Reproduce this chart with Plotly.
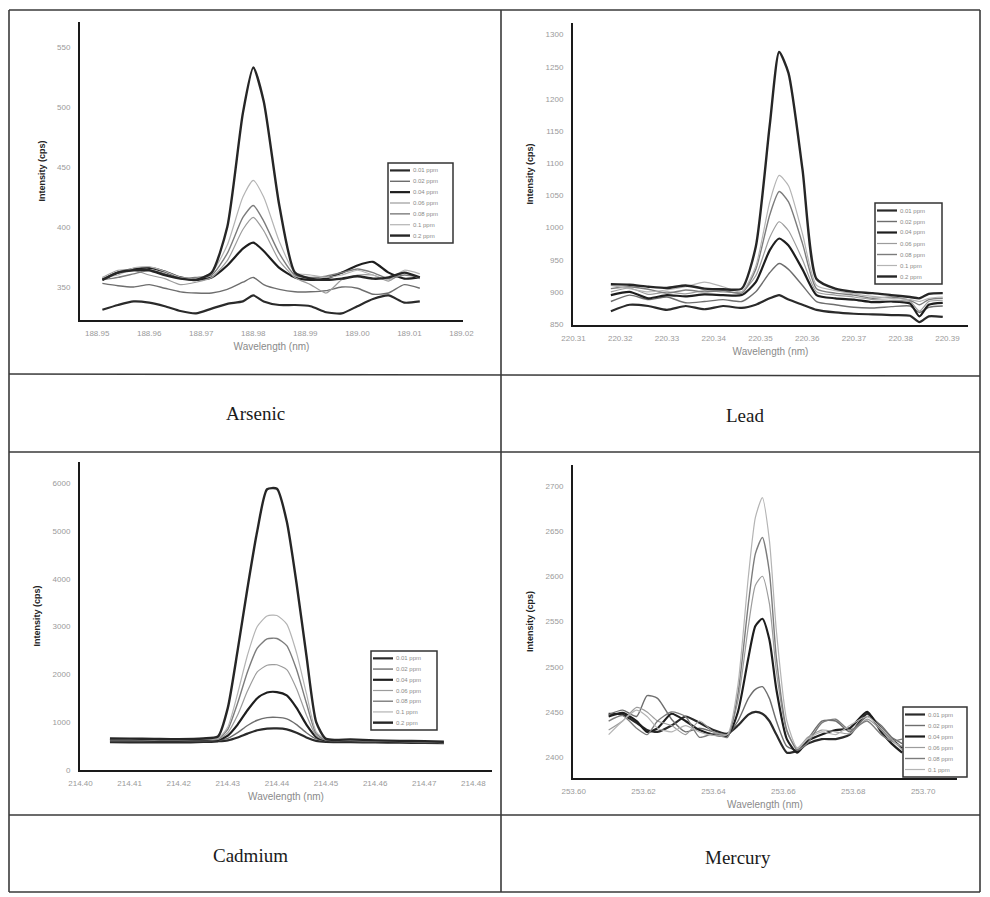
import plotly.graph_objects as go

# ---------------- DATA ----------------
PPM_LABELS_7 = ["0.01 ppm", "0.02 ppm", "0.04 ppm", "0.06 ppm", "0.08 ppm", "0.1 ppm", "0.2 ppm"]
PPM_LABELS_6 = ["0.01 ppm", "0.02 ppm", "0.04 ppm", "0.06 ppm", "0.08 ppm", "0.1 ppm"]
ELEMENTS = ["Arsenic", "Lead", "Cadmium", "Mercury"]

# Arsenic
AS_WL = [188.951, 188.954, 188.957, 188.960, 188.963, 188.966, 188.969, 188.972, 188.975, 188.978, 188.980,
         188.982, 188.985, 188.988, 188.991, 188.994, 188.997, 189.000, 189.003, 189.006, 189.009, 189.012]
AS_001 = [331, 335, 338, 337, 334, 330, 328, 332, 336, 338, 343, 338, 335, 335, 334, 329, 328, 334, 340, 343, 337, 338]
AS_002 = [353, 351, 350, 352, 349, 346, 345, 345, 348, 354, 358, 352, 348, 346, 346, 347, 350, 349, 344, 345, 352, 349]
AS_004 = [356, 362, 365, 366, 363, 358, 356, 358, 368, 382, 387, 380, 366, 358, 356, 357, 362, 368, 371, 362, 357, 358]
AS_006 = [358, 364, 364, 360, 357, 352, 354, 358, 372, 398, 408, 397, 372, 358, 352, 345, 356, 360, 360, 355, 362, 357]
AS_008 = [356, 358, 361, 364, 361, 357, 358, 360, 378, 408, 418, 405, 378, 360, 358, 359, 362, 365, 362, 357, 360, 358]
AS_010 = [358, 360, 366, 367, 363, 358, 357, 362, 385, 425, 439, 425, 388, 362, 360, 358, 360, 364, 360, 356, 364, 361]
AS_020 = [356, 362, 364, 364, 360, 357, 356, 362, 400, 495, 533, 505, 418, 362, 357, 356, 357, 359, 357, 358, 362, 358]

# Lead
PB_WL = [220.318, 220.322, 220.326, 220.330, 220.334, 220.338, 220.342, 220.346, 220.349, 220.352, 220.354,
         220.356, 220.359, 220.362, 220.366, 220.370, 220.374, 220.378, 220.382, 220.384, 220.386, 220.389]
PB_001 = [870, 880, 878, 872, 878, 873, 878, 875, 880, 890, 895, 888, 880, 872, 868, 866, 865, 864, 863, 853, 862, 861]
PB_002 = [885, 895, 888, 892, 883, 885, 888, 885, 900, 930, 944, 935, 910, 885, 880, 876, 875, 877, 878, 868, 876, 878]
PB_004 = [895, 900, 890, 895, 893, 896, 895, 895, 915, 965, 983, 972, 935, 895, 890, 888, 884, 885, 882, 862, 880, 883]
PB_006 = [900, 906, 896, 900, 897, 902, 900, 900, 925, 985, 1009, 995, 950, 900, 895, 892, 888, 887, 885, 870, 885, 887]
PB_008 = [905, 908, 904, 898, 903, 900, 902, 898, 935, 1020, 1056, 1040, 975, 905, 898, 895, 890, 892, 887, 880, 888, 890]
PB_010 = [910, 905, 900, 903, 908, 915, 908, 900, 940, 1040, 1081, 1065, 990, 910, 902, 897, 893, 890, 888, 885, 890, 892]
PB_020 = [912, 911, 908, 906, 910, 905, 904, 905, 970, 1160, 1273, 1240, 1090, 920, 905, 900, 898, 895, 892, 890, 897, 898]

# Cadmium
CD_WL = [214.406, 214.410, 214.415, 214.420, 214.425, 214.428, 214.430, 214.432, 214.434, 214.436, 214.438,
         214.440, 214.442, 214.444, 214.446, 214.448, 214.450, 214.455, 214.460, 214.465, 214.470, 214.474]
CD_001 = [580, 575, 575, 575, 585, 600, 620, 680, 760, 830, 865, 870, 850, 780, 680, 610, 590, 580, 575, 570, 565, 560]
CD_002 = [600, 600, 600, 600, 610, 620, 660, 780, 930, 1040, 1095, 1100, 1070, 950, 780, 650, 610, 600, 590, 585, 575, 565]
CD_004 = [620, 620, 615, 615, 625, 630, 720, 950, 1250, 1500, 1620, 1630, 1560, 1300, 950, 690, 620, 610, 600, 590, 580, 570]
CD_006 = [630, 630, 625, 625, 635, 640, 780, 1150, 1650, 2050, 2190, 2200, 2100, 1700, 1150, 720, 625, 615, 605, 595, 585, 570]
CD_008 = [640, 640, 635, 630, 645, 650, 850, 1400, 2050, 2550, 2740, 2750, 2600, 2100, 1400, 760, 630, 620, 610, 600, 590, 575]
CD_010 = [650, 645, 640, 640, 650, 660, 900, 1600, 2400, 3000, 3220, 3230, 3050, 2450, 1600, 800, 640, 630, 615, 600, 590, 580]
CD_020 = [660, 655, 650, 645, 660, 700, 1300, 2500, 3800, 5000, 5870, 5880, 5200, 3900, 2400, 1000, 650, 640, 620, 610, 600, 590]

# Mercury
HG_WL = [253.610, 253.614, 253.618, 253.621, 253.624, 253.628, 253.632, 253.636, 253.640, 253.644, 253.647,
         253.650, 253.652, 253.654, 253.656, 253.658, 253.661, 253.664, 253.667, 253.671, 253.675, 253.679,
         253.684, 253.688, 253.691, 253.694]
HG_001 = [2448, 2447, 2438, 2430, 2428, 2435, 2445, 2438, 2430, 2426, 2435, 2447, 2450, 2448, 2440, 2425, 2405,
          2407, 2415, 2420, 2420, 2425, 2448, 2432, 2420, 2410]
HG_002 = [2447, 2452, 2445, 2468, 2465, 2442, 2428, 2432, 2428, 2425, 2440, 2465, 2475, 2478, 2465, 2440, 2412,
          2408, 2420, 2440, 2440, 2428, 2445, 2435, 2422, 2415]
HG_004 = [2445, 2449, 2440, 2428, 2432, 2448, 2440, 2430, 2425, 2424, 2450, 2510, 2545, 2553, 2530, 2475, 2420,
          2405, 2418, 2425, 2430, 2432, 2450, 2428, 2415, 2405]
HG_006 = [2430, 2440, 2455, 2450, 2440, 2435, 2425, 2440, 2428, 2425, 2462, 2545, 2590, 2600, 2570, 2495, 2428,
          2410, 2422, 2430, 2428, 2426, 2442, 2430, 2418, 2412]
HG_008 = [2440, 2446, 2432, 2425, 2440, 2450, 2445, 2422, 2426, 2422, 2470, 2570, 2625, 2643, 2605, 2510, 2430,
          2408, 2416, 2438, 2442, 2430, 2440, 2425, 2418, 2420]
HG_010 = [2425, 2440, 2452, 2445, 2432, 2428, 2435, 2428, 2424, 2425, 2480, 2600, 2665, 2687, 2640, 2540, 2440,
          2410, 2420, 2428, 2425, 2435, 2445, 2432, 2420, 2408]

# ---------------- STYLE / LAYOUT ----------------
W, H = 990, 897
LINE_STYLES = [("#2a2a2a", 2.2), ("#6e6e6e", 1.4), ("#1e1e1e", 2.2), ("#9c9c9c", 1.2),
               ("#7c7c7c", 1.4), ("#b4b4b4", 1.2), ("#262626", 2.4)]


def px(x):
    return x / W


def py(y):
    return 1 - y / H


panels = [
    dict(wl=AS_WL, series=[AS_001, AS_002, AS_004, AS_006, AS_008, AS_010, AS_020], labels=PPM_LABELS_7,
         xpix=(80, 463), ypix=(22, 320), xrange=[188.9467, 189.0203], yrange=[322.5, 571],
         tick0=188.95, dtick=0.01, ydtick=50, legend=(388, 163, 453, 243), label_pos=(255, 413)),
    dict(wl=PB_WL, series=[PB_001, PB_002, PB_004, PB_006, PB_008, PB_010, PB_020], labels=PPM_LABELS_7,
         xpix=(573, 968), ypix=(23, 325), xrange=[220.3099, 220.3944], yrange=[848.5, 1318],
         tick0=220.31, dtick=0.01, ydtick=50, legend=(875, 203, 942, 284), label_pos=(745, 415)),
    dict(wl=CD_WL, series=[CD_001, CD_002, CD_004, CD_006, CD_008, CD_010, CD_020], labels=PPM_LABELS_7,
         xpix=(80, 492), ypix=(462, 770), xrange=[214.3999, 214.4838], yrange=[0, 6440],
         tick0=214.40, dtick=0.01, ydtick=1000, legend=(371, 651, 437, 730), label_pos=(250, 855)),
    dict(wl=HG_WL, series=[HG_001, HG_002, HG_004, HG_006, HG_008, HG_010], labels=PPM_LABELS_6,
         xpix=(573, 957), ypix=(465, 778), xrange=[253.5998, 253.7097], yrange=[2377, 2723],
         tick0=253.60, dtick=0.02, ydtick=50, legend=(903, 707, 967, 777), label_pos=(738, 857)),
]

fig = go.Figure()
shapes = []
annotations = []
layout_axes = {}

for i, p in enumerate(panels):
    k = "" if i == 0 else str(i + 1)
    xref, yref = "x" + k, "y" + k
    for j, (vals, lab) in enumerate(zip(p["series"], p["labels"])):
        color, width = LINE_STYLES[j]
        fig.add_trace(go.Scatter(
            x=p["wl"], y=vals, name=lab, mode="lines", xaxis=xref, yaxis=yref,
            line=dict(color=color, width=width, shape="spline", smoothing=0.6),
            showlegend=False))
    x0, x1 = p["xpix"]
    y0, y1 = p["ypix"]
    layout_axes["xaxis" + k] = dict(
        domain=[px(x0), px(x1)], anchor=yref, range=p["xrange"], tick0=p["tick0"], dtick=p["dtick"],
        tickformat=".2f", showgrid=False, zeroline=False, showline=True, linecolor="#1a1a1a", linewidth=2,
        ticks="", ticklabelstandoff=4, tickfont=dict(family="Liberation Sans", size=8, color="#9a9a9a"),
        title=dict(text="Wavelength (nm)", standoff=6,
                   font=dict(family="Liberation Sans", size=10, color="#8a8a8a")),
        automargin=False, fixedrange=True)
    layout_axes["yaxis" + k] = dict(
        domain=[py(y1), py(y0)], anchor=xref, range=p["yrange"], dtick=p["ydtick"], tick0=0,
        showgrid=False, zeroline=False, showline=True, linecolor="#1a1a1a", linewidth=2,
        ticks="", ticklabelstandoff=6, tickfont=dict(family="Liberation Sans", size=8, color="#9a9a9a"),
        title=dict(text="<b>Intensity (cps)</b>", standoff=10,
                   font=dict(family="Liberation Sans", size=9, color="#222222")),
        automargin=False, fixedrange=True)

    # compact legend box, built from the series names and styles
    lx0, ly0, lx1, ly1 = p["legend"]
    shapes.append(dict(type="rect", xref="paper", yref="paper", x0=px(lx0), x1=px(lx1), y0=py(ly1), y1=py(ly0),
                       line=dict(color="#333333", width=1.5), fillcolor="white", layer="above"))
    n = len(p["labels"])
    row = (ly1 - ly0 - 4) / n
    for j, lab in enumerate(p["labels"]):
        color, width = LINE_STYLES[j]
        yc = ly0 + 2 + row * (j + 0.5)
        shapes.append(dict(type="line", xref="paper", yref="paper", x0=px(lx0 + 2), x1=px(lx0 + 22),
                           y0=py(yc), y1=py(yc), line=dict(color=color, width=width), layer="above"))
        annotations.append(dict(text=lab, xref="paper", yref="paper", x=px(lx0 + 23), y=py(yc),
                                xanchor="left", yanchor="middle", showarrow=False,
                                font=dict(family="Liberation Sans", size=6, color="#8a8a8a")))

    # element name in the caption cell
    cx, cy = p["label_pos"]
    annotations.append(dict(text=ELEMENTS[i], xref="paper", yref="paper", x=px(cx), y=py(cy),
                            xanchor="center", yanchor="middle", showarrow=False,
                            font=dict(family="Liberation Serif", size=19, color="#1a1a1a")))

# table grid lines
grid_col = "#3a3a3a"
table_lines = [
    (9, 10, 980, 10), (9, 892, 980, 892), (9, 10, 9, 892), (980, 10, 980, 892),
    (501, 10, 501, 892), (9, 374, 980, 376), (9, 452, 980, 452), (9, 815, 980, 815),
]
for (ax0, ay0, ax1, ay1) in table_lines:
    shapes.append(dict(type="line", xref="paper", yref="paper", x0=px(ax0), y0=py(ay0), x1=px(ax1), y1=py(ay1),
                       line=dict(color=grid_col, width=1.6)))

fig.update_layout(
    width=W, height=H, margin=dict(l=0, r=0, t=0, b=0, autoexpand=False),
    paper_bgcolor="white", plot_bgcolor="white", showlegend=False,
    shapes=shapes, annotations=annotations, **layout_axes)

fig.write_html("out.html")
